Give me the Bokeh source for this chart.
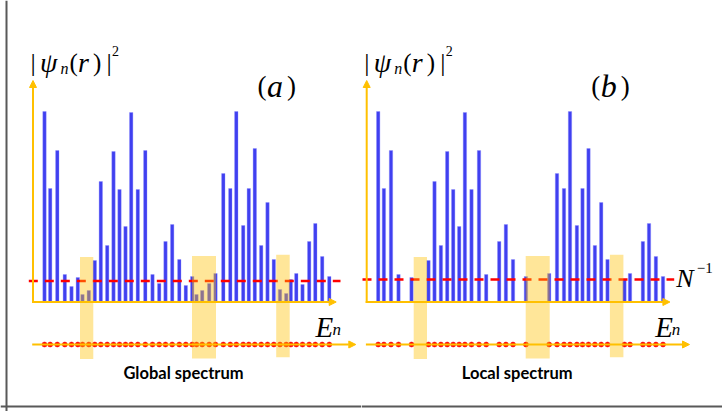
from bokeh.plotting import figure
from bokeh.layouts import row
from bokeh.models import Range1d, Arrow, NormalHead, Span, ColumnDataSource
from bokeh.core.properties import value
from bokeh.embed import file_html
from bokeh.resources import INLINE

# ---------------- data (arbitrary units) ----------------
level = list(range(1, 47))
energy = [11.5, 17.2, 24.3, 31.8, 38.5, 44.8, 49.5, 55.8, 61.8, 67.8,
          74.2, 80.5, 86.5, 92.5, 98.2, 104.8, 112.3, 119.5, 126.2, 132.5,
          139.2, 146.3, 152.8, 159.2, 163.5, 169.2, 176.2, 182.5, 190.3, 197.3,
          203.3, 210.2, 215.8, 221.8, 228.2, 234.5, 240.8, 247.0, 253.2, 257.8,
          263.3, 269.5, 276.2, 282.3, 289.2, 296.3]
weight = [190.5, 113.5, 151.5, 27.5, 15.5, 24.5, 7.5, 11.5, 41.5, 120.5,
          56.5, 150.5, 112.5, 75.5, 189.5, 112.5, 151.5, 27.5, 18.5, 60.5,
          77.5, 42.5, 16.5, 25.5, 7.5, 11.5, 18.5, 28.5, 128.5, 113.5,
          190.5, 76.5, 113.5, 153.5, 56.5, 99.5, 42.5, 12.5, 8.5, 22.5,
          28.5, 17.5, 60.5, 78.5, 45.5, 25.5]
local_levels = [1, 2, 3, 4, 6, 9, 10, 11, 12, 13, 14, 15, 16, 17, 18, 20, 21, 22,
                24, 28, 29, 30, 31, 32, 33, 34, 35, 36, 37, 40, 41, 43, 44, 45, 46]
threshold_a = 21.0
threshold_b = 22.5
window_left = [47.0, 159.0, 243.2]
window_right = [60.3, 183.0, 256.7]
window_top = [45.0, 46.0, 47.3]
window_bottom = [-57.0, -56.5, -55.2]

BLUE = "#4040F0"
ORANGE = "#FFC000"
RED = "#FF0000"
SERIF = value("Liberation Serif")
DY = 7.0  # text lift


def txt(p, x, y, s, size, italic=False, font=SERIF, align="left", bold=False, color="black"):
    style = "italic" if italic else ("bold" if bold else "normal")
    p.text(x=[x], y=[y + DY], text=[s], text_font=font, text_font_size=size,
           text_font_style=style, text_align=align, text_baseline="alphabetic",
           text_color=color)


def panel(levels, x0, x1, thr, tag, e_x, n_x, bottom_label, frame_left=None, n_inv=False):
    p = figure(width=361, height=411, x_range=Range1d(x0, x1),
               y_range=Range1d(-109.5, 301.5), output_backend="svg",
               toolbar_location=None, min_border=0,
               x_axis_location=None, y_axis_location=None)
    p.grid.visible = False
    p.outline_line_color = None
    p.background_fill_color = "white"
    p.border_fill_color = "white"

    xs = [energy[l - 1] for l in levels]
    hs = [weight[l - 1] for l in levels]
    src = ColumnDataSource(dict(x=xs, h=hs))

    p.vbar(x="x", top="h", bottom=0, width=3.4, source=src,
           fill_color=BLUE, line_color="#8C8CFF", line_width=0.6, line_alpha=0.6)

    # threshold N^-1
    p.segment(x0=[-4.2], y0=[thr], x1=[307.5], y1=[thr], line_color=RED,
              line_width=2.3, line_dash="9 7")

    # axes
    p.add_layout(Arrow(end=NormalHead(size=7, fill_color=ORANGE, line_color=ORANGE),
                       x_start=0, y_start=-1, x_end=0, y_end=221.5,
                       line_color=ORANGE, line_width=2))
    p.add_layout(Arrow(end=NormalHead(size=7, fill_color=ORANGE, line_color=ORANGE),
                       x_start=-1, y_start=0, x_end=303.2, y_end=0,
                       line_color=ORANGE, line_width=2))
    p.add_layout(Arrow(end=NormalHead(size=7, fill_color=ORANGE, line_color=ORANGE),
                       x_start=-0.8, y_start=-42.5, x_end=322.8, y_end=-42.5,
                       line_color=ORANGE, line_width=2))

    # spectrum dots
    p.scatter(x=xs, y=[-42.5] * len(xs), size=5, fill_color=RED, line_color=RED,
              line_width=0.5)

    # highlighted windows (on top)
    p.quad(left=window_left, right=window_right, top=window_top, bottom=window_bottom,
           fill_color=ORANGE, fill_alpha=0.4, line_color=None)

    # y label |psi_n(r)|^2
    yb = 232.2
    txt(p, -2.5, yb, "|", "26px")
    txt(p, 7.0, yb, "\u03c8", "28px", italic=True)
    txt(p, 27.5, yb - 5.7, "n", "16px", italic=True)
    txt(p, 36.5, yb, "(", "25px")
    txt(p, 45.0, yb, "r", "28px", italic=True)
    txt(p, 60.0, yb, ")", "25px")
    txt(p, 73.5, yb, "|", "26px")
    txt(p, 79.0, yb + 12.3, "2", "14px")

    # panel tag
    txt(p, 224.5, 209.1, "(", "27px")
    txt(p, 234.0, 209.1, tag, "32px", italic=True)
    txt(p, 254.0, 209.1, ")", "27px")

    # E_n
    txt(p, e_x, -31.5, "E", "29px", italic=True)
    txt(p, n_x, -34.5, "n", "17px", italic=True)

    if n_inv:
        txt(p, 309.5, 16.5, "N", "26px", italic=True)
        txt(p, 330.0, 27.5, "\u22121", "15px")

    txt(p, 150.5, -78.0, bottom_label, "16.5px", font=value("Lato"), bold=True,
        align="center")

    p.add_layout(Span(location=-104.5, dimension="width", line_color="#595959",
                      line_width=2))
    if frame_left is not None:
        p.add_layout(Span(location=frame_left, dimension="height",
                          line_color="#595959", line_width=2))
    return p


pa = panel(level, -32.5, 328.5, threshold_a, "a", 282.5, 299.5, "Global spectrum",
           frame_left=-26.5)
pb = panel(local_levels, -5.2, 355.8, threshold_b, "b", 288.5, 305.0, "Local spectrum",
           n_inv=True)

layout = row(pa, pb)
open("out.html", "w").write(file_html(layout, INLINE))
